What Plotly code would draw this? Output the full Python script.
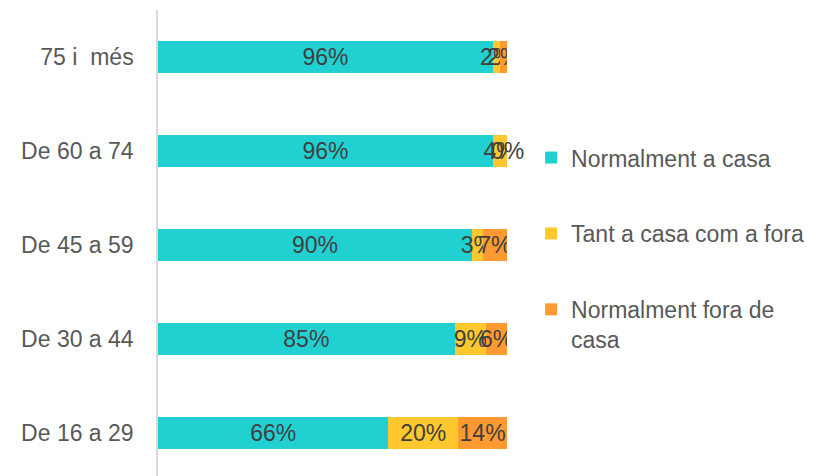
import plotly.graph_objects as go

categories = ["De 16 a 29", "De 30 a 44", "De 45 a 59", "De 60 a 74", "75 i\u00a0 més"]
casa = [66, 85, 90, 96, 96]
ambdos = [20, 9, 3, 4, 2]
fora = [14, 6, 7, 0, 2]
series_names = ["Normalment a casa", "Tant a casa com a fora", "Normalment fora de<br>casa"]
colors = ["#21D1D1", "#FFC82E", "#FF9A33"]

FS = 23
fig = go.Figure()
series = [casa, ambdos, fora]
for i, (name, vals, col) in enumerate(zip(series_names, series, colors)):
    fig.add_trace(go.Bar(
        y=categories, x=vals, name=name, orientation="h",
        marker=dict(color=col, line=dict(width=0)),
        text=[f"{v}%" for v in vals], textposition="inside", textangle=0,
        insidetextanchor="middle", constraintext="none",
        textfont=dict(size=FS, color="#404040"),
        legendgroup=f"g{i}", width=0.35,
    ))

# labels for zero-width segments (plotly hides text on empty bars)
for si, vals in enumerate(series):
    for ci, v in enumerate(vals):
        if v == 0:
            base = sum(series[k][ci] for k in range(si))
            fig.add_annotation(x=base + v / 2, y=categories[ci], text=f"{v}%",
                               showarrow=False, font=dict(size=FS, color="#404040"))

fig.update_layout(
    barmode="stack",
    width=821, height=476,
    margin=dict(l=150, r=322, t=2, b=0),
    plot_bgcolor="white", paper_bgcolor="white",
    font=dict(family="Arial, Liberation Sans, sans-serif", size=FS, color="#595959"),
    uniformtext=dict(mode="show", minsize=FS),
    xaxis=dict(range=[0, 100], visible=False),
    yaxis=dict(range=[-0.543, 4.5], showline=True, linecolor="#D9D9D9", linewidth=1.5,
               ticks="", ticklabelstandoff=18, showgrid=False, zeroline=False,
               tickfont=dict(size=FS, color="#595959")),
    legend=dict(x=1.069, y=0.734, xanchor="left", yanchor="top", tracegroupgap=43,
                font=dict(size=FS, color="#595959"), itemwidth=30, valign="top",
                bgcolor="rgba(0,0,0,0)"),
    showlegend=True,
)
fig.write_html("out.html")
